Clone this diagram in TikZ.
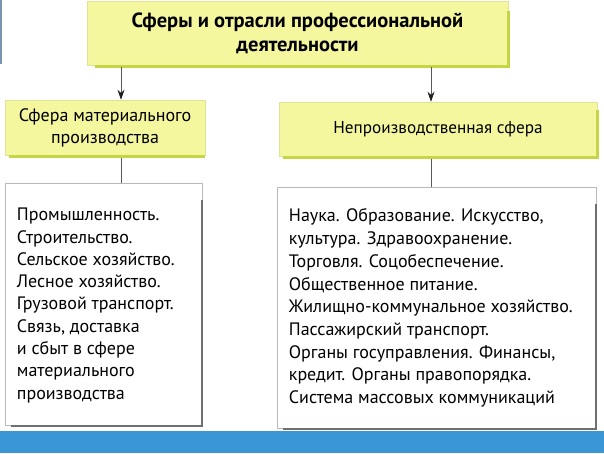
\documentclass[tikz,border=0pt]{standalone}
\usepackage{fontspec}
\setmainfont{PT Sans}
\usetikzlibrary{arrows.meta}
\definecolor{boxyellow}{RGB}{244,247,158}
\definecolor{yshadow}{RGB}{196,214,70}
\definecolor{yedge}{RGB}{222,228,150}
\definecolor{bandblue}{RGB}{58,150,212}
\definecolor{frameblue}{RGB}{120,150,175}
\definecolor{wshadow}{RGB}{110,110,115}
\definecolor{tipcol}{RGB}{30,30,30}
\tikzset{
  ybox/.style={draw=yedge, line width=0.6pt, fill=boxyellow, inner sep=0pt, align=center},
  wbox/.style={draw=gray!55, line width=0.6pt, fill=white, inner sep=0pt},
  yshad/.style={draw=yshadow, line width=3pt},
  wshad/.style={draw=wshadow, line width=2.2pt},
  arr/.style={draw=gray!70!black, line width=0.7pt, -{Stealth[length=10pt,width=7pt,color=tipcol]}},
  conn/.style={draw=gray!70!black, line width=0.7pt},
  bodytext/.style={anchor=north west, align=left, inner sep=0pt},
}
\begin{document}
\begin{tikzpicture}[x=1pt,y=-1pt]
\useasboundingbox (0,0) rectangle (604,453);
% frame stripe and band
\fill[frameblue] (0,0) rectangle (2,64);
\fill[bandblue] (0,431) rectangle (604,453);
% yellow boxes
\node[ybox, minimum width=421pt, minimum height=64pt, font=\bfseries\fontsize{20.5}{24}\selectfont] (title) at (297.5,33) {Сферы и отрасли профессиональной\\деятельности};
\node[ybox, minimum width=200pt, minimum height=55pt, font=\fontsize{18}{22}\selectfont] (b2l) at (105,127.5) {Сфера материального\\производства};
\node[ybox, minimum width=318pt, minimum height=54pt, font=\fontsize{17.2}{22}\selectfont] (b2r) at (438,129) {Непроизводственная сфера};
% shadows of yellow boxes
\draw[yshad] ([xshift=8pt,yshift=-1.5pt]title.south west) -- ([yshift=-1.5pt]title.south east) -- ([yshift=-10pt]title.north east);
\draw[yshad] ([xshift=4pt,yshift=-1.5pt]b2l.south west) -- ([yshift=-1.5pt]b2l.south east);
\draw[yshad] ([xshift=4pt,yshift=-1.5pt]b2r.south west) -- ([yshift=-1.5pt]b2r.south east) -- ([yshift=-8pt]b2r.north east);
% white boxes
\node[wbox, minimum width=197pt, minimum height=242pt] (b3l) at (103.5,304) {};
\node[wbox, minimum width=319pt, minimum height=241pt] (b3r) at (436.5,307.5) {};
\draw[wshad] ([xshift=6pt,yshift=-1pt]b3l.south west) -- ([yshift=-1pt]b3l.south east) -- ([yshift=-17pt]b3l.north east);
\draw[wshad] ([xshift=6pt,yshift=-1pt]b3r.south west) -- ([yshift=-1pt]b3r.south east) -- ([yshift=-17pt]b3r.north east);
% texts
\node[bodytext, font=\fontsize{18}{22.3}\selectfont] (t3l) at ([shift={(12pt,-25.2pt)}]b3l.north west) {Промышленность.\\Строительство.\\Сельское хозяйство.\\Лесное хозяйство.\\Грузовой транспорт.\\Связь, доставка\\и сбыт в сфере\\материального\\производства};
\node[bodytext, font=\fontsize{18}{22.7}\selectfont] (t3r) at ([shift={(12pt,-22pt)}]b3r.north west) {Наука. Образование. Искусство,\\культура. Здравоохранение.\\Торговля. Соцобеспечение.\\Общественное питание.\\Жилищно-коммунальное хозяйство.\\Пассажирский транспорт.\\Органы госуправления. Финансы,\\кредит. Органы правопорядка.\\Система массовых коммуникаций};
% connectors
\coordinate (lx) at (121,0);
\coordinate (rx) at (431,0);
\draw[arr] ([yshift=-2pt]title.south -| lx) -- (b2l.north -| lx);
\draw[arr] ([yshift=-2pt]title.south -| rx) -- (b2r.north -| rx);
\draw[conn] ([yshift=-3pt]b2l.south -| lx) -- (b3l.north -| lx);
\draw[conn] ([yshift=-3pt]b2r.south -| rx) -- (b3r.north -| rx);
\end{tikzpicture}
\end{document}
